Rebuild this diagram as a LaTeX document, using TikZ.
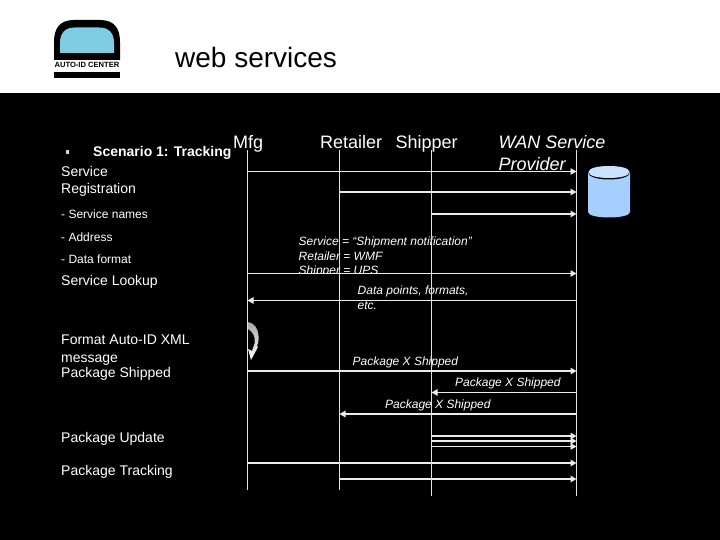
\documentclass[tikz,border=0pt]{standalone}
\usepackage{fontspec}
\setmainfont{Liberation Sans}
\usetikzlibrary{arrows.meta}
\definecolor{logoblue}{RGB}{125,205,228}
\definecolor{drumblue}{RGB}{166,207,255}
\definecolor{drumtop}{RGB}{200,226,255}
\definecolor{bulletgrey}{RGB}{205,215,225}
\tikzset{
  lifeline/.style={white!88!black, line width=0.8pt},
  msg/.style={white!92!black, line width=0.8pt, -{Triangle[length=6pt, width=6.5pt]}},
  msgthick/.style={msg, line width=1.3pt},
  lblbig/.style={anchor=base west, inner sep=0pt, text=white, font=\fontsize{18}{18}\selectfont},
  lblleft/.style={anchor=base west, inner sep=0pt, text=white, font=\fontsize{14}{14}\selectfont},
  lblsub/.style={anchor=base west, inner sep=0pt, text=white, font=\fontsize{12}{12}\selectfont},
  lblmsg/.style={anchor=base west, inner sep=0pt, text=white, font=\fontsize{12}{12}\selectfont\itshape},
}
\begin{document}
\begin{tikzpicture}[x=1pt, y=-1pt]
\useasboundingbox (0,0) rectangle (720,540);
\fill[white] (0,0) rectangle (720,93);
\fill[black] (0,93) rectangle (720,540);
% logo
\fill[black] (54,60) -- (54,42) .. controls (54,28) and (60,20) .. (74,20) -- (100,20) .. controls (114,20) and (120,28) .. (120,42) -- (120,60) -- cycle;
\fill[logoblue] (60,53) -- (60,43) .. controls (60,33) and (65,27.5) .. (75,27.5) -- (99,27.5) .. controls (109,27.5) and (114,33) .. (114,43) -- (114,53) -- cycle;
\fill[black] (54,72) rectangle (120,78);
\node[anchor=base, inner sep=0pt, font=\fontsize{7.6}{8}\selectfont\bfseries] (logotext) at (87,68) {AUTO-ID CENTER};
\node[anchor=base west, inner sep=0pt, font=\fontsize{28}{28}\selectfont] (title) at (175,68) {web services};
% left column
\fill[bulletgrey] (66,150.5) rectangle (69,154);
\node[lblleft, font=\fontsize{14}{14}\selectfont\bfseries] (scenario) at (93,156.5) {Scenario 1: Tracking};
\node[lblleft] (service) at (61,177) {Service};
\node[lblleft] (registration) at (61,194) {Registration};
\node[lblsub] (names) at (61,218.5) {- Service names};
\node[lblsub] (address) at (61,241) {- Address};
\node[lblsub] (dataformat) at (61,263) {- Data format};
\node[lblleft] (lookup) at (61,285) {Service Lookup};
\node[lblleft] (format) at (61,344.5) {Format Auto-ID XML};
\node[lblleft] (message) at (61,362) {message};
\node[lblleft] (shipped) at (61,377) {Package Shipped};
\node[lblleft] (update) at (61,442) {Package Update};
\node[lblleft] (tracking) at (61,475) {Package Tracking};
% column heads
\node[lblbig] (mfg) at (233,149) {Mfg};
\node[lblbig] (retailer) at (320,149) {Retailer};
\node[lblbig] (shipper) at (395.5,149) {Shipper};
\node[lblbig, font=\fontsize{18}{18}\selectfont\itshape] (wan) at (498.5,149) {WAN Service};
\node[lblbig, font=\fontsize{18}{18}\selectfont\itshape] (provider) at (498.5,171) {Provider};
% message texts
\node[lblmsg] (svcname) at (298.5,245) {Service = “Shipment notification”};
\node[lblmsg] (retname) at (298.5,260) {Retailer = WMF};
\node[lblmsg] (shipname) at (298.5,274) {Shipper = UPS};
\fill[black] (295,274) rectangle (400,280);
\node[lblmsg] (points) at (357.5,294) {Data points, formats,};
\node[lblmsg] (etc) at (357.5,309) {etc.};
\node[lblmsg] (pkga) at (352.5,365) {Package X Shipped};
\node[lblmsg] (pkgb) at (455,386) {Package X Shipped};
\node[lblmsg] (pkgc) at (385,408) {Package X Shipped};
% lifelines
\coordinate (mfgtop) at (247.5,150);
\coordinate (mfgbot) at (247.5,490);
\coordinate (rettop) at (339.5,150);
\coordinate (retbot) at (339.5,490);
\coordinate (shiptop) at (431.5,150);
\coordinate (shipbot) at (431.5,496);
\coordinate (wantop) at (576.5,150);
\coordinate (wanbot) at (576.5,496);
\draw[lifeline] (mfgtop) -- (mfgbot);
\draw[lifeline] (rettop) -- (retbot);
\draw[lifeline] (shiptop) -- (shipbot);
\draw[lifeline] (wantop) -- (wanbot);
% message rows
\coordinate (r1) at (0,171.5);
\coordinate (r2) at (0,192);
\coordinate (r3) at (0,214);
\coordinate (r4) at (0,273.5);
\coordinate (r5) at (0,300.5);
\coordinate (r6) at (0,371);
\coordinate (r7) at (0,392.5);
\coordinate (r8) at (0,414);
\coordinate (r9) at (0,436);
\coordinate (r10) at (0,441);
\coordinate (r11) at (0,446.5);
\coordinate (r12) at (0,463);
\coordinate (r13) at (0,479);
\draw[msg] (mfgtop |- r1) -- (wantop |- r1);
\draw[msgthick] (rettop |- r2) -- (wantop |- r2);
\draw[msgthick] (shiptop |- r3) -- (wantop |- r3);
\draw[msg] (mfgtop |- r4) -- (wantop |- r4);
\draw[msg] (wantop |- r5) -- (mfgtop |- r5);
\draw[msgthick] (mfgtop |- r6) -- (wantop |- r6);
\draw[msg] (wantop |- r7) -- (shiptop |- r7);
\draw[msgthick] (wantop |- r8) -- (rettop |- r8);
\draw[msgthick] (shiptop |- r9) -- (wantop |- r9);
\draw[msgthick] (shiptop |- r10) -- (wantop |- r10);
\draw[msg] (shiptop |- r11) -- (wantop |- r11);
\draw[msgthick] (mfgtop |- r12) -- (wantop |- r12);
\draw[msgthick] (rettop |- r13) -- (wantop |- r13);
% self arrow
\shade[top color=gray!70, bottom color=white] (248,322) .. controls (254,323) and (258,328) .. (258.5,336) .. controls (259,341) and (258,344) .. (257,346) -- (258,347) -- (251,360) -- (248,349) -- (252,351) -- (253,348) .. controls (256,342) and (256,334) .. (248,329) -- cycle;
% data store
\fill[drumblue] (588,172) -- (588,212) .. controls (588,215.5) and (598,217.5) .. (609,217.5) .. controls (620,217.5) and (630,215.5) .. (630,212) -- (630,172) -- cycle;
\fill[black] (588,172) .. controls (588,177) and (598,179.5) .. (609,179.5) .. controls (620,179.5) and (630,177) .. (630,172) -- cycle;
\fill[drumtop] (588.5,172) .. controls (588.5,168) and (598,166) .. (609,166) .. controls (620,166) and (629.5,168) .. (629.5,172) .. controls (629.5,176) and (620,178) .. (609,178) .. controls (598,178) and (588.5,176) .. (588.5,172) -- cycle;
\end{tikzpicture}
\end{document}
